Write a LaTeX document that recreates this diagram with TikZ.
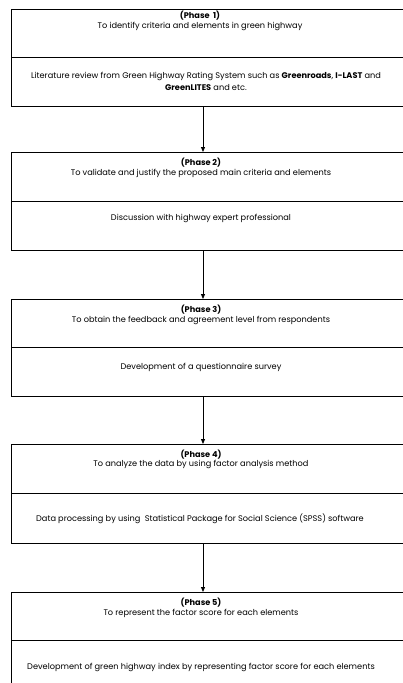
\documentclass[tikz,border=0pt]{standalone}
\usepackage{fontspec}
\setmainfont{Poppins}
\usetikzlibrary{arrows.meta}
\begin{document}
\begin{tikzpicture}[x=1pt,y=-1pt,
  box/.style={draw, line width=0.8pt, minimum width=396pt, inner sep=0pt, outer sep=0pt, anchor=north west},
  txt/.style={font=\fontsize{8.2pt}{12pt}\selectfont, inner sep=0pt, align=center},
  arr/.style={-{Triangle[length=5pt,width=4pt]}, line width=0.8pt}]
\useasboundingbox (0,0) rectangle (403,683);
\clip (0,0) rectangle (403,683);
% Phase 1
\node[box, minimum height=48pt] (p1t) at (11,9) {};
\node[box, minimum height=49pt] (p1b) at (p1t.south west) {};
\node[txt] (p1h) at (200,16) {\textbf{(Phase\ \ 1)}};
\node[txt] (p1a) at (200,26) {To identify criteria and elements in green highway};
\node[txt] (p1c) at (206,81) {Literature review from Green Highway Rating System such as \textbf{Greenroads}, \textbf{I-LAST} and\\ \textbf{GreenLITES} and etc.};
% Phase 2
\node[box, minimum height=49pt] (p2t) at (11,152) {};
\node[box, minimum height=49pt] (p2b) at (p2t.south west) {};
\node[txt] (p2h) at (201,163) {\textbf{(Phase 2)}};
\node[txt] (p2a) at (201,173) {To validate and justify the proposed main criteria and elements};
\node[txt] (p2c) at (201,218) {Discussion with highway expert professional};
% Phase 3
\node[box, minimum height=48pt] (p3t) at (11,299) {};
\node[box, minimum height=49pt] (p3t2) at (p3t.south west) {};
\node[txt] (p3h) at (201,310) {\textbf{(Phase 3)}};
\node[txt] (p3a) at (201,320) {To obtain the feedback and agreement level from respondents};
\node[txt] (p3c) at (201,367) {Development of a questionnaire survey};
% Phase 4
\node[box, minimum height=49pt] (p4t) at (11,444) {};
\node[box, minimum height=50pt] (p4b) at (p4t.south west) {};
\node[txt] (p4h) at (201,455) {\textbf{(Phase 4)}};
\node[txt] (p4a) at (201,464) {To analyze the data by using factor analysis method};
\node[txt] (p4c) at (200,519) {Data processing by using\ \ Statistical Package for Social Science (SPSS) software};
% Phase 5
\node[box, minimum height=48pt] (p5t) at (11,592) {};
\node[box, minimum height=50pt] (p5b) at (p5t.south west) {};
\node[txt] (p5h) at (201,603) {\textbf{(Phase 5)}};
\node[txt] (p5a) at (201,613) {To represent the factor score for each elements};
\node[txt] (p5c) at (201,667) {Development of green highway index by representing factor score for each elements};
% arrows
\draw[arr] ([xshift=-6pt]p1b.south) -- ([xshift=-6pt]p2t.north);
\draw[arr] ([xshift=-6pt]p2b.south) -- ([xshift=-6pt]p3t.north);
\draw[arr] ([xshift=-6pt]p3t2.south) -- ([xshift=-6pt]p4t.north);
\draw[arr] ([xshift=-6pt]p4b.south) -- ([xshift=-6pt]p5t.north);
\end{tikzpicture}
\end{document}
